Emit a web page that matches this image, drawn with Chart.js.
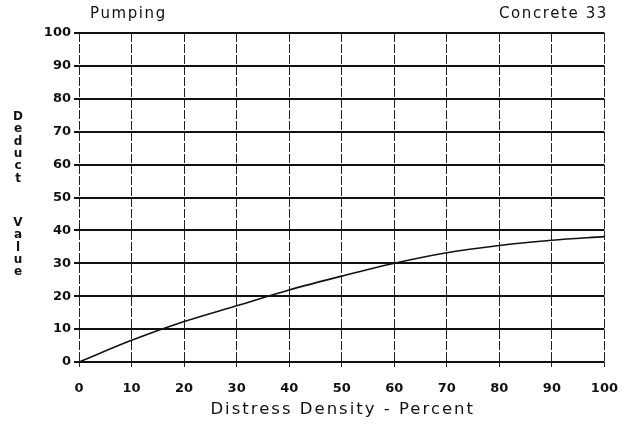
<!DOCTYPE html>
<html>
<head>
<meta charset="utf-8">
<script src="https://cdn.jsdelivr.net/npm/chart.js@4.4.1/dist/chart.umd.min.js"></script>
<style>
  html, body { margin: 0; padding: 0; background: #fff; }
  #wrap { width: 632px; height: 426px; }
</style>
</head>
<body>
<div id="wrap"><canvas id="deductChart" width="632" height="426"></canvas></div>
<script>
// deduct curve: pumping, concrete 33
const density = [0, 10, 20, 30, 40, 50, 60, 70, 80, 90, 100];
const deductValue = [0, 6.6, 12.3, 17.1, 21.9, 26.1, 30.0, 33.2, 35.4, 37.0, 38.1];
const xTicks = [0, 10, 20, 30, 40, 50, 60, 70, 80, 90, 100];
const yTicks = [0, 10, 20, 30, 40, 50, 60, 70, 80, 90, 100];

const chartTitle = 'Pumping';
const chartCode = 'Concrete 33';
const xTitle = 'Distress Density - Percent';
const yTitleWords = ['Deduct', 'Value'];

// header texts, x title and the stacked letters of the y title
const textPlugin = {
    id: 'headerText',
    afterDraw(chart) {
        const ctx = chart.ctx;
        const area = chart.chartArea;
        ctx.save();
        ctx.fillStyle = '#111';
        ctx.textBaseline = 'alphabetic';
        ctx.font = '15px "DejaVu Sans"';
        ctx.letterSpacing = '1.6px';
        ctx.textAlign = 'left';
        ctx.fillText(chartTitle, 90, 18);
        ctx.textAlign = 'right';
        ctx.fillText(chartCode, 608, 18);

        ctx.font = '16.5px "DejaVu Sans"';
        ctx.letterSpacing = '2px';
        ctx.textAlign = 'center';
        ctx.fillText(xTitle, (area.left + area.right) / 2 + 1, 414);

        ctx.letterSpacing = '0px';
        ctx.font = 'bold 12px "DejaVu Sans"';
        ctx.textBaseline = 'middle';
        const starts = [117, 223];
        yTitleWords.forEach((word, w) => {
            word.split('').forEach((ch, i) => {
                ctx.fillText(ch, 18, starts[w] + i * 12.3);
            });
        });
        ctx.restore();
    }
};

new Chart(document.getElementById('deductChart').getContext('2d'), {
    type: 'line',
    data: {
        datasets: [{
            data: density.map((d, i) => ({ x: d, y: deductValue[i] })),
            borderColor: '#111',
            borderWidth: 1.6,
            pointRadius: 0,
            fill: false,
            cubicInterpolationMode: 'monotone'
        }]
    },
    options: {
        responsive: false,
        animation: false,
        layout: { padding: { top: 33, right: 27, left: 0, bottom: 0 } },
        plugins: { legend: { display: false }, tooltip: { enabled: false } },
        scales: {
            x: {
                type: 'linear',
                min: 0,
                max: 100,
                afterBuildTicks: scale => { scale.ticks = xTicks.map(v => ({ value: v })); },
                afterFit: scale => { scale.height = 64; },
                border: { display: false, dash: [9, 2] },
                grid: { color: '#222', lineWidth: 1, tickLength: 5 },
                ticks: {
                    color: '#111',
                    padding: 14,
                    maxRotation: 0,
                    font: { family: 'DejaVu Sans', size: 13, weight: 'bold' }
                }
            },
            y: {
                min: 0,
                max: 100,
                afterBuildTicks: scale => { scale.ticks = yTicks.map(v => ({ value: v })); },
                afterFit: scale => { scale.width = 79; },
                border: { display: false },
                grid: { color: '#111', lineWidth: 2, tickLength: 5 },
                ticks: {
                    color: '#111',
                    padding: 3,
                    font: { family: 'DejaVu Sans', size: 13, weight: 'bold' }
                }
            }
        }
    },
    plugins: [textPlugin]
});
</script>
</body>
</html>
